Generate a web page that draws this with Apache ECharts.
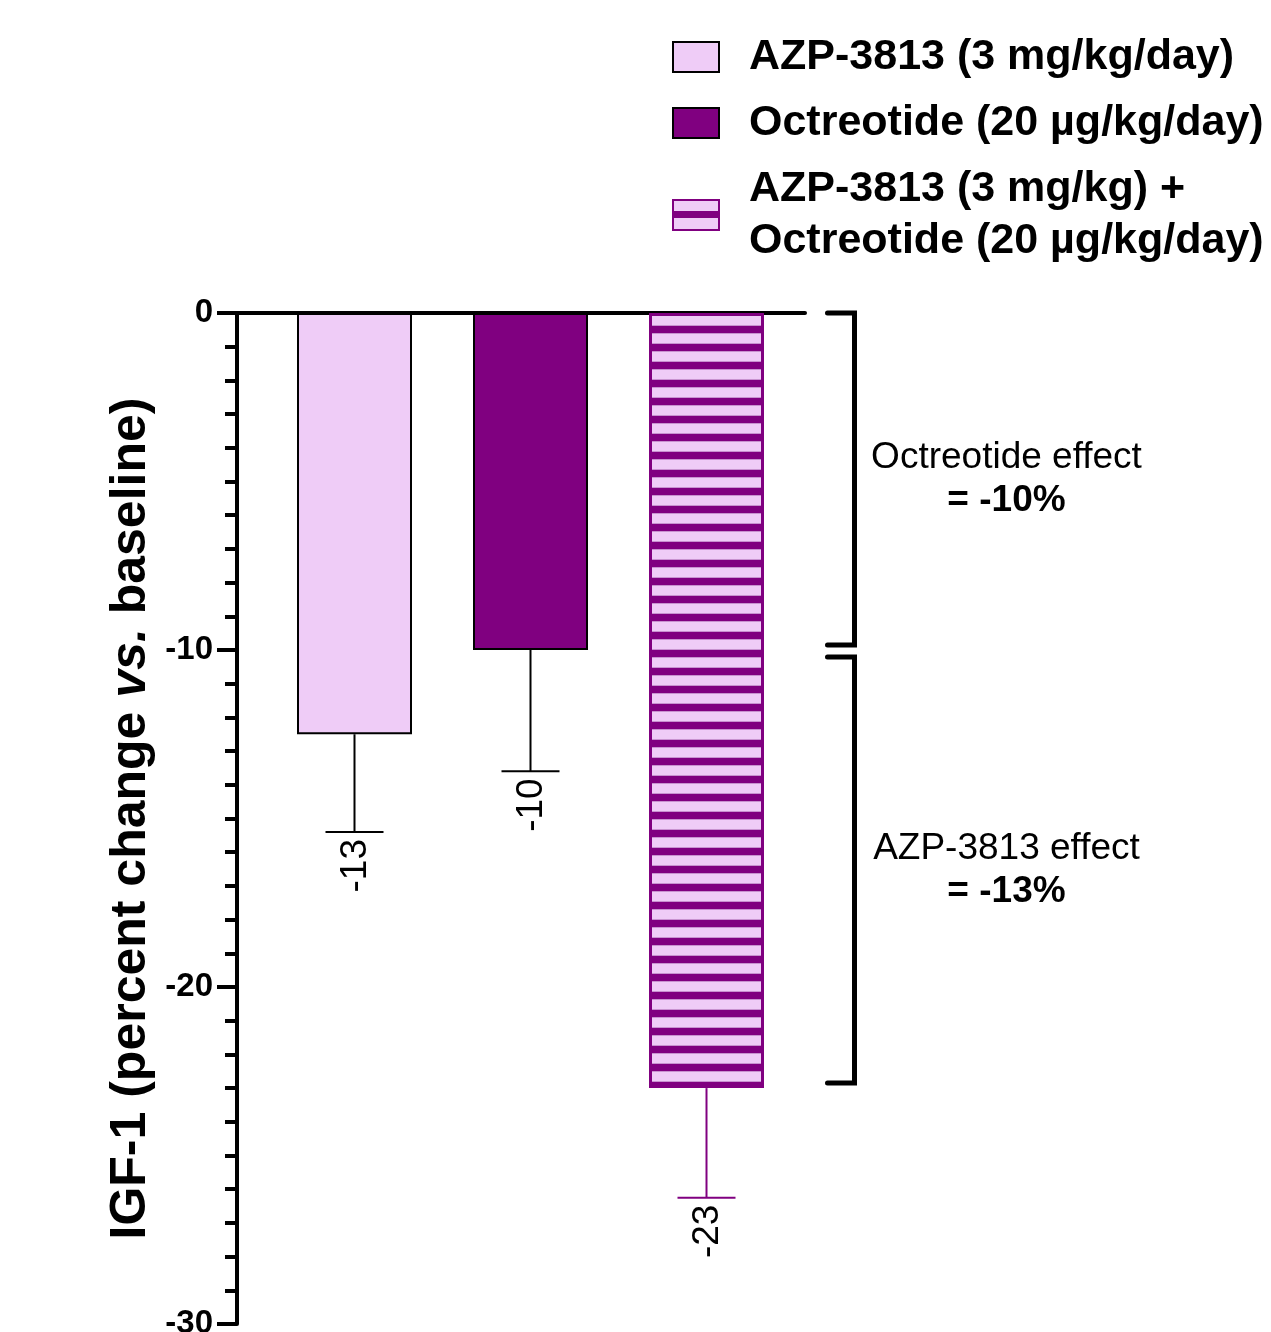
<!DOCTYPE html>
<html>
<head>
<meta charset="utf-8">
<style>
  html, body { margin: 0; padding: 0; background: #fff; }
  #chart { width: 1271px; height: 1332px; }
</style>
<script src="https://cdn.jsdelivr.net/npm/echarts@6/dist/echarts.min.js"></script>
</head>
<body>
<div id="chart"></div>
<script>
// --- data ---
const groups = [
  'AZP-3813 (3 mg/kg/day)',
  'Octreotide (20 µg/kg/day)',
  'AZP-3813 (3 mg/kg) +\nOctreotide (20 µg/kg/day)'
];
const means = [-12.5, -10, -23];
const errors = [2.9, 3.6, 3.25];
const valueLabels = ['-13', '-10', '-23'];
const yMin = -30;
const yMax = 0;
const yStep = 10;
const effectFrom = [0, -10];
const effectTo = [-10, -23];
const effectTitles = ['Octreotide effect', 'AZP-3813 effect'];
const effectValues = ['= -10%', '= -13%'];

const FONT = '"Liberation Sans", Arial, sans-serif';
const LIGHT = '#EFCCF7';
const PURPLE = '#800080';

// horizontal stripes for the combination bar
function stripeTile() {
  const c = document.createElement('canvas');
  c.width = 18; c.height = 18;
  const ctx = c.getContext('2d');
  ctx.fillStyle = LIGHT;
  ctx.fillRect(0, 0, 18, 18);
  ctx.fillStyle = '#C892D0';
  ctx.fillRect(0, 1, 18, 1);
  ctx.fillRect(0, 9, 18, 1);
  ctx.fillStyle = PURPLE;
  ctx.fillRect(0, 2, 18, 7);
  return c;
}

const barStyles = [
  { color: LIGHT, borderColor: '#000', borderWidth: 2 },
  { color: PURPLE, borderColor: '#000', borderWidth: 2 },
  { color: { image: stripeTile(), repeat: 'repeat' }, borderColor: PURPLE, borderWidth: 3 }
];
const errColors = ['#000', '#000', PURPLE];

const chart = echarts.init(document.getElementById('chart'), null, { renderer: 'canvas' });

const barSeries = groups.map(function (g, i) {
  return {
    name: g,
    type: 'bar',
    xAxisIndex: 1,
    yAxisIndex: 1,
    barWidth: 115,
    barGap: '-100%',
    itemStyle: barStyles[i],
    data: groups.map(function (_, j) { return j === i ? means[i] : '-'; }),
    z: 2
  };
});

const errorSeries = {
  type: 'custom',
  xAxisIndex: 1,
  yAxisIndex: 1,
  clip: false,
  z: 3,
  encode: { x: 0, y: [1, 2] },
  data: means.map(function (m, i) { return [i, m, m - errors[i]]; }),
  renderItem: function (params, api) {
    const i = params.dataIndex;
    const top = api.coord([api.value(0), api.value(1)]);
    const bot = api.coord([api.value(0), api.value(2)]);
    const col = errColors[i];
    return {
      type: 'group',
      children: [
        { type: 'line', shape: { x1: top[0], y1: top[1], x2: bot[0], y2: bot[1] },
          style: { stroke: col, lineWidth: 2 } },
        { type: 'line', shape: { x1: bot[0] - 29, y1: bot[1], x2: bot[0] + 29, y2: bot[1] },
          style: { stroke: col, lineWidth: 2 } },
        { type: 'text', x: bot[0] + 1, y: bot[1] + 7, rotation: Math.PI / 2,
          style: { text: valueLabels[i], font: '37px ' + FONT, fill: '#000',
                   align: 'right', verticalAlign: 'middle' } }
      ]
    };
  }
};

const bracketSeries = {
  type: 'custom',
  xAxisIndex: 1,
  yAxisIndex: 1,
  clip: false,
  z: 3,
  encode: { x: 0, y: [1, 2] },
  data: effectFrom.map(function (f, i) { return [i, f, effectTo[i]]; }),
  renderItem: function (params, api) {
    const i = params.dataIndex;
    const cs = params.coordSys;
    const right = cs.x + cs.width;
    const bx = right + 60;
    const hx = right + 33;
    const f = api.value(1);
    const y1 = api.coord([0, f])[1] + (f === 0 ? 0 : 7);
    const y2 = api.coord([0, api.value(2)])[1] - 5;
    const mid = (y1 + y2) / 2;
    const tx = right + 212;
    return {
      type: 'group',
      children: [
        { type: 'polyline', shape: { points: [[hx, y1], [bx, y1], [bx, y2], [hx, y2]] },
          style: { stroke: '#000', lineWidth: 5, fill: null, lineCap: 'round', lineJoin: 'miter' } },
        { type: 'text', x: tx, y: mid - 21,
          style: { text: effectTitles[i], font: '37px ' + FONT, fill: '#000',
                   align: 'center', verticalAlign: 'middle' } },
        { type: 'text', x: tx, y: mid + 22,
          style: { text: effectValues[i], font: 'bold 37px ' + FONT, fill: '#000',
                   align: 'center', verticalAlign: 'middle' } }
      ]
    };
  }
};

const option = {
  animation: false,
  backgroundColor: '#fff',
  legend: {
    orient: 'vertical',
    left: 667,
    top: 26,
    itemWidth: 46,
    itemHeight: 30,
    itemGap: 14,
    selectedMode: false,
    icon: 'rect',
    textStyle: { fontFamily: FONT, fontSize: 43, fontWeight: 'bold', color: '#000',
                 lineHeight: 52, padding: [0, 0, 0, 25] },
    data: [
      { name: groups[0] },
      { name: groups[1] },
      { name: groups[2], itemStyle: {
          color: { type: 'linear', x: 0, y: 0, x2: 0, y2: 1, colorStops: [
            { offset: 0, color: LIGHT }, { offset: 0.38, color: LIGHT },
            { offset: 0.38, color: PURPLE }, { offset: 0.6, color: PURPLE },
            { offset: 0.6, color: LIGHT }, { offset: 1, color: LIGHT }
          ] } } }
    ]
  },
  grid: [
    { left: 237, top: 313, width: 568, height: 1011, outerBoundsMode: 'none', containLabel: false },
    { left: 266.5, top: 313, width: 528, height: 1011, outerBoundsMode: 'none', containLabel: false }
  ],
  xAxis: [
    { gridIndex: 0, type: 'value', min: 0, max: 1,
      axisLine: { show: true, onZero: true, lineStyle: { color: '#000', width: 4, cap: 'round' } },
      axisTick: { show: false }, axisLabel: { show: false }, splitLine: { show: false } },
    { gridIndex: 1, type: 'category', data: groups, show: false }
  ],
  yAxis: [
    { gridIndex: 0, type: 'value', min: yMin, max: yMax, interval: yStep,
      name: '{b|IGF-1 (percent change }{i|vs.}{b| baseline)}',
      nameLocation: 'middle', nameRotate: 90, nameGap: 81,
      nameTextStyle: { rich: {
        b: { fontFamily: FONT, fontSize: 50, fontWeight: 'bold', color: '#000' },
        i: { fontFamily: FONT, fontSize: 50, fontWeight: 'bold', fontStyle: 'italic', color: '#000' }
      } },
      axisLine: { show: true, onZero: false, lineStyle: { color: '#000', width: 4 } },
      axisTick: { show: true, length: 20, lineStyle: { color: '#000', width: 4 } },
      minorTick: { show: true, splitNumber: 10, length: 12, lineStyle: { color: '#000', width: 4 } },
      axisLabel: { fontFamily: FONT, fontSize: 33, fontWeight: 'bold', color: '#000', margin: 24 },
      splitLine: { show: false } },
    { gridIndex: 1, type: 'value', min: yMin, max: yMax, show: false }
  ],
  series: barSeries.concat([errorSeries, bracketSeries])
};

chart.setOption(option);
</script>
</body>
</html>
